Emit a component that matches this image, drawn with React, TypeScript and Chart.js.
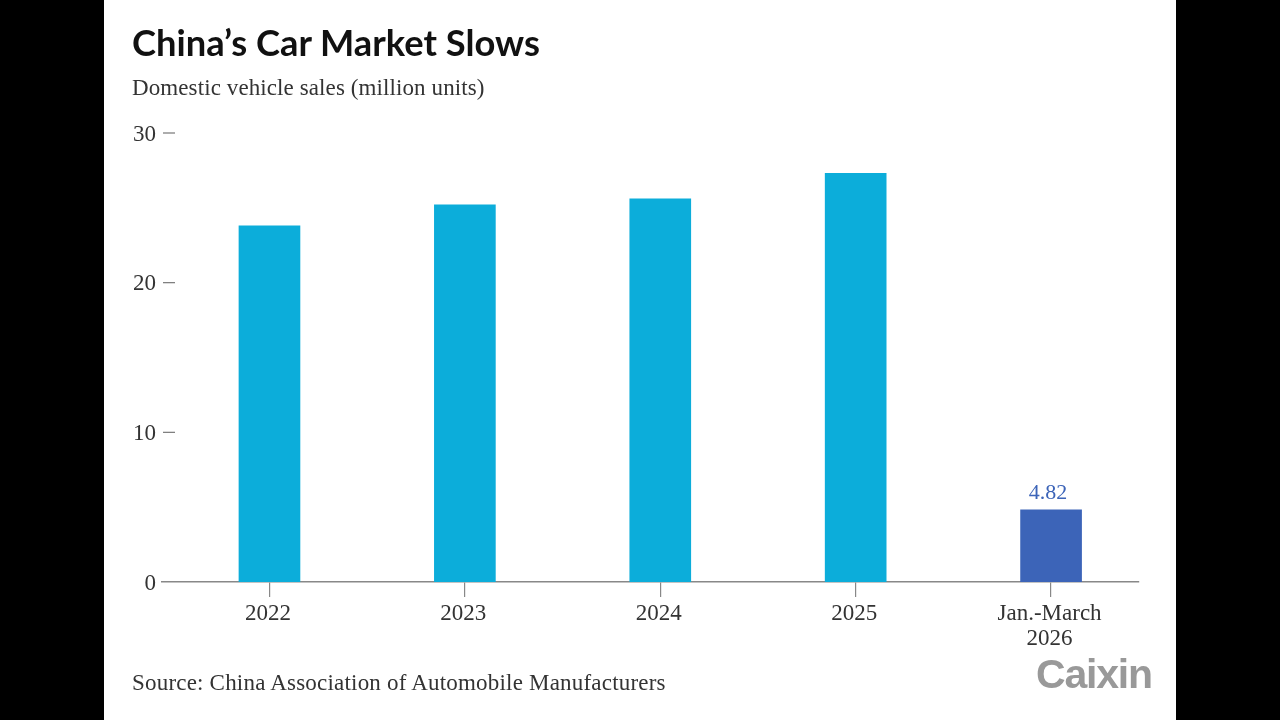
import { useEffect, useRef } from "react";
import { Chart, registerables } from "chart.js";

Chart.register(...registerables);

const categories: (string | string[])[] = ["2022", "2023", "2024", "2025", ["Jan.-March", "2026"]];
const sales = [23.8, 25.2, 25.6, 27.3, 4.82];
const barColors = ["#0cadda", "#0cadda", "#0cadda", "#0cadda", "#3c64b8"];
const yTicks = [0, 10, 20, 30];
const labelled = [4];

const serif = '"Liberation Serif", serif';

// short dashes beside the y labels, and the one value label
const extras = {
  id: "extras",
  afterDatasetsDraw(chart: any) {
    const { ctx, chartArea, scales } = chart;
    ctx.save();
    ctx.strokeStyle = "#777";
    ctx.lineWidth = 1.2;
    yTicks.filter((v) => v > 0).forEach((v) => {
      const y = scales.y.getPixelForValue(v);
      ctx.beginPath();
      ctx.moveTo(chartArea.left + 1, y);
      ctx.lineTo(chartArea.left + 13, y);
      ctx.stroke();
    });
    const bars = chart.getDatasetMeta(0).data;
    ctx.fillStyle = "#3c64b8";
    ctx.font = `22px ${serif}`;
    ctx.textAlign = "center";
    ctx.textBaseline = "bottom";
    labelled.forEach((i) => {
      ctx.fillText(String(sales[i]), bars[i].x - 3, bars[i].y - 6);
    });
    ctx.restore();
  },
};

function CarChart() {
  const canvasRef = useRef<HTMLCanvasElement>(null);

  useEffect(() => {
    if (!canvasRef.current) return;
    const chart = new Chart(canvasRef.current, {
      type: "bar",
      data: {
        datasets: [{
          data: sales.map((v, i) => ({ x: i, y: v })),
          backgroundColor: barColors,
          barThickness: 61,
        }],
      },
      options: {
        responsive: false,
        animation: false,
        layout: { padding: { top: 133, right: 37, left: 0, bottom: 0 } },
        plugins: { legend: { display: false }, tooltip: { enabled: false } },
        scales: {
          x: {
            type: "linear",
            min: -0.55,
            max: 4.45,
            offset: false,
            afterBuildTicks: (s: any) => { s.ticks = categories.map((_, i) => ({ value: i })); },
            afterFit: (s: any) => { s.height = 138; },
            border: { color: "#888", width: 1.5 },
            grid: { offset: false, drawOnChartArea: false, tickLength: 15, color: "#888", lineWidth: 1.2 },
            ticks: {
              autoSkip: false,
              maxRotation: 0,
              padding: 4,
              labelOffset: -1.5,
              color: "#333",
              font: { family: serif, size: 23, lineHeight: 1.09 },
              callback: (v: any) => categories[v],
            },
          },
          y: {
            min: 0,
            max: 30,
            afterFit: (s: any) => { s.width = 58; },
            border: { display: false },
            grid: { display: false, drawTicks: false, tickLength: 0 },
            ticks: {
              stepSize: 10,
              padding: 6,
              labelOffset: 1.5,
              color: "#333",
              font: { family: serif, size: 23 },
            },
          },
        },
      },
      plugins: [extras],
    } as any);
    return () => chart.destroy();
  }, []);

  return <canvas ref={canvasRef} width={1072} height={720} style={{ position: "absolute", left: 0, top: 0 }} />;
}

export default function App() {
  useEffect(() => {
    document.body.style.margin = "0";
    document.body.style.background = "#000";
  }, []);

  return (
    <div style={{ position: "fixed", left: 0, top: 0, width: 1280, height: 720, background: "#000", overflow: "hidden" }}>
      <div style={{ position: "absolute", left: 104, top: 0, width: 1072, height: 720, background: "#fff" }}>
        <CarChart />
        <div style={{ position: "absolute", left: 28, top: 20, font: "bold 36.3px Lato", color: "#111", whiteSpace: "nowrap" }}>
          China’s Car Market Slows
        </div>
        <div style={{ position: "absolute", left: 28, top: 75, font: `23px ${serif}`, letterSpacing: 0.1, color: "#333", whiteSpace: "nowrap" }}>
          Domestic vehicle sales (million units)
        </div>
        <div style={{ position: "absolute", left: 28, top: 670, font: `23px ${serif}`, letterSpacing: 0.2, color: "#333", whiteSpace: "nowrap" }}>
          Source: China Association of Automobile Manufacturers
        </div>
        <div style={{ position: "absolute", left: 932, top: 651, font: 'bold 41px "Liberation Sans"', color: "#999", letterSpacing: -1.2, whiteSpace: "nowrap" }}>
          Caixin
        </div>
      </div>
    </div>
  );
}
